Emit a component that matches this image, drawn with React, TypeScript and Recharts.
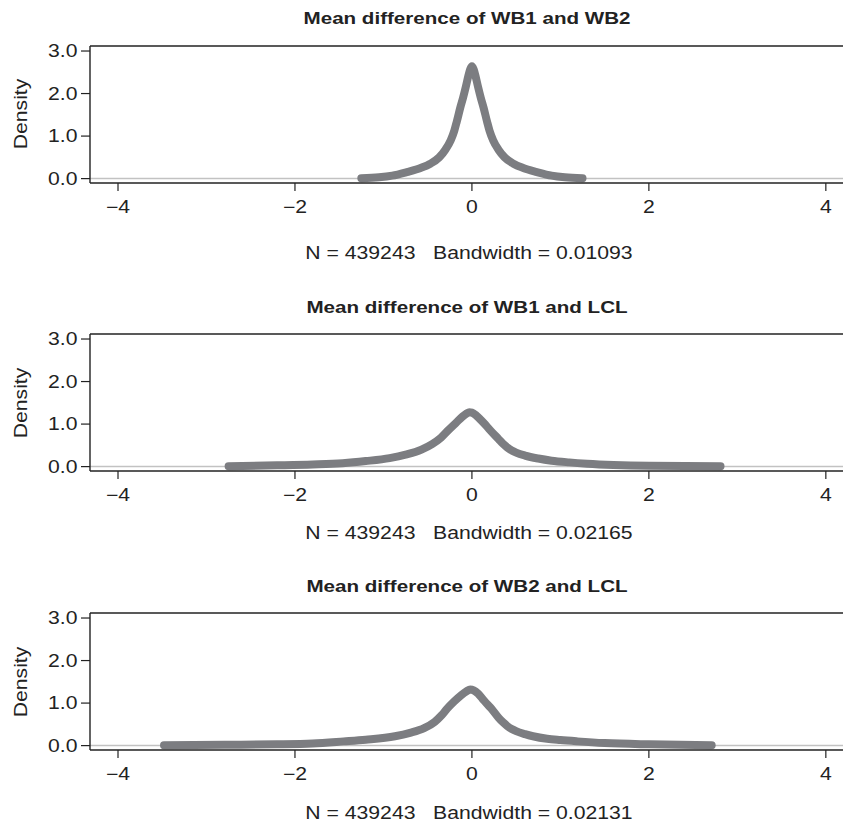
import React from "react";
import { LineChart, Line, XAxis, YAxis, ReferenceLine } from "recharts";

// kernel density curves
const wb1wb2X = [-1.25, -1.05, -0.9, -0.735, -0.58, -0.47, -0.37, -0.3, -0.24, -0.2, -0.17, -0.13, -0.1, -0.07, -0.04, -0.02, 0, 0.02, 0.04, 0.07, 0.1, 0.13, 0.17, 0.2, 0.24, 0.3, 0.37, 0.47, 0.58, 0.735, 0.9, 1.05, 1.25];
const wb1wb2Y = [0.01, 0.03, 0.07, 0.155, 0.25, 0.35, 0.5, 0.68, 0.9, 1.12, 1.35, 1.68, 1.9, 2.15, 2.42, 2.57, 2.64, 2.57, 2.42, 2.15, 1.9, 1.68, 1.35, 1.12, 0.9, 0.68, 0.5, 0.35, 0.25, 0.155, 0.07, 0.03, 0.01];

const wb1lclX = [-2.75, -2.2, -1.8, -1.46, -1.2, -0.93, -0.75, -0.57, -0.45, -0.35, -0.26, -0.18, -0.11, -0.06, -0.03, 0.0, 0.05, 0.1, 0.15, 0.2, 0.3, 0.35, 0.4, 0.45, 0.5, 0.6, 0.75, 0.9, 1.1, 1.3, 1.6, 2.0, 2.81];
const wb1lclY = [0.01, 0.03, 0.05, 0.08, 0.13, 0.2, 0.28, 0.4, 0.53, 0.68, 0.87, 1.03, 1.17, 1.25, 1.28, 1.27, 1.2, 1.1, 0.99, 0.87, 0.65, 0.54, 0.45, 0.38, 0.33, 0.26, 0.19, 0.14, 0.1, 0.07, 0.04, 0.02, 0.01];

const wb2lclX = [-3.48, -2.8, -2.2, -1.8, -1.45, -1.2, -0.87, -0.7, -0.54, -0.42, -0.34, -0.28, -0.2, -0.12, -0.06, -0.02, 0.02, 0.07, 0.12, 0.17, 0.22, 0.3, 0.35, 0.4, 0.45, 0.5, 0.6, 0.69, 0.85, 1.0, 1.19, 1.5, 2.0, 2.71];
const wb2lclY = [0.01, 0.02, 0.03, 0.05, 0.1, 0.14, 0.22, 0.3, 0.41, 0.56, 0.72, 0.87, 1.04, 1.19, 1.28, 1.32, 1.3, 1.22, 1.1, 0.98, 0.87, 0.66, 0.55, 0.46, 0.39, 0.34, 0.27, 0.22, 0.16, 0.13, 0.1, 0.06, 0.03, 0.01];

const titles = ["Mean difference of WB1 and WB2", "Mean difference of WB1 and LCL", "Mean difference of WB2 and LCL"];
const footers = ["N = 439243   Bandwidth = 0.01093", "N = 439243   Bandwidth = 0.02165", "N = 439243   Bandwidth = 0.02131"];

const xTicks = [-4, -2, 0, 2, 4];
const yTicks = [0, 0.5, 1, 1.5, 2, 2.5, 3];
const xDomain = [-4.3165, 4.194];
const yDomain = [-0.103, 3.118];

const FONT = '"Liberation Sans", Arial, Helvetica, sans-serif';
const INK = "#222";
const CURVE = "#7c7d81";
const STRETCH = 1.21;

const toRows = (xs: number[], ys: number[]) => xs.map((x, i) => ({ x, y: ys[i] }));

const panels = [
  { data: toRows(wb1wb2X, wb1wb2Y), plotTop: 45.7, footerY: 252.5 },
  { data: toRows(wb1lclX, wb1lclY), plotTop: 334, footerY: 532.5 },
  { data: toRows(wb2lclX, wb2lclY), plotTop: 613.3, footerY: 812.5 },
];

const XTick = (props: any) => {
  const { x, y, payload } = props;
  const v = payload.value;
  const label = v < 0 ? "\u2212" + Math.abs(v) : String(v);
  return (
    <g transform={`translate(${x},${y})`}>
      <text transform={`scale(${STRETCH},1)`} x={0} y={20.5} textAnchor="middle" fontSize={17.5} fill={INK} fontFamily={FONT}>
        {label}
      </text>
    </g>
  );
};

const YTick = (props: any) => {
  const { x, y, payload } = props;
  const v = payload.value;
  if (!Number.isInteger(v)) return null;
  return (
    <g transform={`translate(${x - 1.5},${y})`}>
      <text transform={`scale(${STRETCH},1)`} x={0} y={6.3} textAnchor="end" fontSize={17.5} fill={INK} fontFamily={FONT}>
        {v.toFixed(1)}
      </text>
    </g>
  );
};

const textStyle = (left: number, top: number, extra: React.CSSProperties = {}): React.CSSProperties => ({
  position: "absolute",
  left,
  top,
  transform: `translate(-50%, -50%) scaleX(${STRETCH})`,
  whiteSpace: "pre",
  fontFamily: FONT,
  fontSize: 17.5,
  lineHeight: "20px",
  color: INK,
  ...extra,
});

function Panel({ data, plotTop, footerY, title, footer }: any) {
  const padTop = 10;
  return (
    <>
      <div style={textStyle(467, plotTop - 26.5, { fontWeight: "bold", fontSize: 17 })}>{title}</div>
      <div
        style={{
          ...textStyle(21, plotTop + 68.5),
          transform: `translate(-50%, -50%) rotate(-90deg) scaleX(${STRETCH})`,
        }}
      >
        Density
      </div>
      <div style={{ position: "absolute", left: 0, top: plotTop - padTop }}>
        <LineChart width={843} height={137 + padTop + 40} data={data} margin={{ top: padTop, right: 0, bottom: 0, left: 0 }}>
          <XAxis
            dataKey="x"
            type="number"
            domain={xDomain}
            ticks={xTicks}
            allowDataOverflow
            height={40}
            tickSize={8}
            tick={<XTick />}
            axisLine={{ stroke: INK, strokeWidth: 1.4 }}
            tickLine={{ stroke: INK, strokeWidth: 1.2 }}
          />
          <YAxis
            type="number"
            domain={yDomain}
            ticks={yTicks}
            allowDataOverflow
            width={90}
            tickSize={9}
            tick={<YTick />}
            axisLine={{ stroke: INK, strokeWidth: 1.4 }}
            tickLine={{ stroke: INK, strokeWidth: 1.2 }}
          />
          {/* frame top edge */}
          <ReferenceLine y={yDomain[1]} stroke={INK} strokeWidth={1.4} ifOverflow="visible" />
          <ReferenceLine y={0} stroke="#c2c2c2" strokeWidth={1.5} />
          <Line
            dataKey="y"
            type="monotone"
            stroke={CURVE}
            strokeWidth={8}
            strokeLinecap="round"
            strokeLinejoin="round"
            dot={false}
            activeDot={false}
            isAnimationActive={false}
          />
        </LineChart>
      </div>
      <div style={textStyle(469, footerY)}>{footer}</div>
    </>
  );
}

export default function App() {
  return (
    <div style={{ position: "absolute", left: 0, top: 0, width: 843, height: 828, overflow: "hidden", background: "#fff" }}>
      {panels.map((p, i) => (
        <Panel key={i} {...p} title={titles[i]} footer={footers[i]} />
      ))}
    </div>
  );
}
